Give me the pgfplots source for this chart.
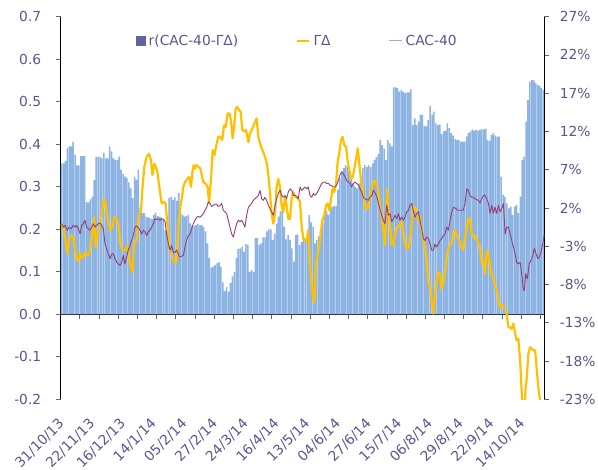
\documentclass[border=0pt]{standalone}
\usepackage{fontspec}
\setmainfont{DejaVu Sans}
\usepackage{pgfplots}
\usepackage{pgfplotstable}
\pgfplotsset{compat=1.18}
\definecolor{txt}{RGB}{87,87,145}
\definecolor{barblue}{RGB}{141,180,226}
\definecolor{legbar}{RGB}{96,100,160}
\definecolor{gold}{RGB}{255,192,0}
\definecolor{cac}{RGB}{150,60,120}
\newcommand{\cf}{\fontsize{13.8bp}{16bp}\selectfont}

\pgfplotstableread[row sep=\\]{
i r\\
0 0.355\\ 1 0.355\\ 2 0.36\\ 3 0.39\\ 4 0.395\\ 5 0.395\\ 6 0.406\\ 7 0.375\\ 8 0.35\\ 9 0.35\\
10 0.372\\ 11 0.372\\ 12 0.372\\ 13 0.263\\ 14 0.263\\ 15 0.27\\ 16 0.277\\ 17 0.316\\ 18 0.37\\ 19 0.37\\
20 0.37\\ 21 0.367\\ 22 0.38\\ 23 0.367\\ 24 0.367\\ 25 0.395\\ 26 0.383\\ 27 0.367\\ 28 0.363\\ 29 0.363\\
30 0.371\\ 31 0.34\\ 32 0.33\\ 33 0.324\\ 34 0.32\\ 35 0.31\\ 36 0.296\\ 37 0.273\\ 38 0.324\\ 39 0.316\\
40 0.34\\ 41 0.25\\ 42 0.238\\ 43 0.238\\ 44 0.23\\ 45 0.228\\ 46 0.226\\ 47 0.224\\ 48 0.234\\ 49 0.239\\
50 0.231\\ 51 0.23\\ 52 0.228\\ 53 0.224\\ 54 0.198\\ 55 0.192\\ 56 0.273\\ 57 0.277\\ 58 0.269\\ 59 0.275\\
60 0.267\\ 61 0.285\\ 62 0.238\\ 63 0.234\\ 64 0.23\\ 65 0.231\\ 66 0.234\\ 67 0.214\\ 68 0.208\\ 69 0.208\\
70 0.21\\ 71 0.212\\ 72 0.209\\ 73 0.21\\ 74 0.205\\ 75 0.195\\ 76 0.167\\ 77 0.132\\ 78 0.11\\ 79 0.112\\
80 0.116\\ 81 0.12\\ 82 0.122\\ 83 0.112\\ 84 0.075\\ 85 0.055\\ 86 0.064\\ 87 0.053\\ 88 0.073\\ 89 0.089\\
90 0.1\\ 91 0.132\\ 92 0.153\\ 93 0.155\\ 94 0.159\\ 95 0.147\\ 96 0.165\\ 97 0.163\\ 98 0.1\\ 99 0.104\\
100 0.1\\ 101 0.179\\ 102 0.179\\ 103 0.163\\ 104 0.167\\ 105 0.181\\ 106 0.181\\ 107 0.195\\ 108 0.2\\ 109 0.2\\
110 0.175\\ 111 0.19\\ 112 0.213\\ 113 0.23\\ 114 0.242\\ 115 0.261\\ 116 0.206\\ 117 0.176\\ 118 0.187\\ 119 0.175\\
120 0.155\\ 121 0.124\\ 122 0.186\\ 123 0.188\\ 124 0.163\\ 125 0.17\\ 126 0.183\\ 127 0.178\\ 128 0.175\\ 129 0.234\\
130 0.216\\ 131 0.206\\ 132 0.167\\ 133 0.175\\ 134 0.183\\ 135 0.2\\ 136 0.214\\ 137 0.238\\ 138 0.242\\ 139 0.234\\
140 0.25\\ 141 0.253\\ 142 0.255\\ 143 0.255\\ 144 0.293\\ 145 0.32\\ 146 0.336\\ 147 0.344\\ 148 0.351\\ 149 0.347\\
150 0.336\\ 151 0.316\\ 152 0.308\\ 153 0.3\\ 154 0.296\\ 155 0.308\\ 156 0.316\\ 157 0.344\\ 158 0.351\\ 159 0.346\\
160 0.351\\ 161 0.346\\ 162 0.355\\ 163 0.363\\ 164 0.37\\ 165 0.377\\ 166 0.41\\ 167 0.398\\ 168 0.39\\ 169 0.363\\
170 0.41\\ 171 0.402\\ 172 0.395\\ 173 0.534\\ 174 0.534\\ 175 0.532\\ 176 0.524\\ 177 0.528\\ 178 0.524\\ 179 0.52\\
180 0.522\\ 181 0.522\\ 182 0.529\\ 183 0.445\\ 184 0.461\\ 185 0.445\\ 186 0.453\\ 187 0.469\\ 188 0.469\\ 189 0.443\\
190 0.442\\ 191 0.457\\ 192 0.49\\ 193 0.469\\ 194 0.477\\ 195 0.449\\ 196 0.445\\ 197 0.447\\ 198 0.424\\ 199 0.43\\
200 0.432\\ 201 0.449\\ 202 0.438\\ 203 0.426\\ 204 0.42\\ 205 0.412\\ 206 0.41\\ 207 0.41\\ 208 0.406\\ 209 0.406\\
210 0.406\\ 211 0.418\\ 212 0.426\\ 213 0.43\\ 214 0.435\\ 215 0.432\\ 216 0.434\\ 217 0.432\\ 218 0.434\\ 219 0.435\\
220 0.435\\ 221 0.437\\ 222 0.41\\ 223 0.408\\ 224 0.422\\ 225 0.426\\ 226 0.42\\ 227 0.418\\ 228 0.418\\ 229 0.324\\
230 0.281\\ 231 0.277\\ 232 0.261\\ 233 0.249\\ 234 0.253\\ 235 0.234\\ 236 0.253\\ 237 0.257\\ 238 0.238\\ 239 0.277\\
240 0.363\\ 241 0.371\\ 242 0.453\\ 243 0.504\\ 244 0.547\\ 245 0.551\\ 246 0.55\\ 247 0.544\\ 248 0.54\\ 249 0.537\\
250 0.532\\ 251 0.528\\
}\corr

\pgfplotstableread[row sep=\\]{
i g\\
0 -0.05\\ 0.9 -0.5\\ 1.7 -1.8\\ 3.0 -4.0\\ 3.8 -2.2\\ 4.9 -1.6\\ 6.1 -1.8\\ 6.9 -3.1\\ 7.8 -4.85\\ 8.7 -4.85\\
9.6 -3.9\\ 10.4 -4.6\\ 11.3 -4.2\\ 12.5 -3.8\\ 13.4 -4.2\\ 14.4 -4.0\\ 15.3 -2.7\\ 16.2 -0.5\\ 16.8 0.8\\ 17.7 -3.1\\
18.6 -1.4\\ 19.6 -0.9\\ 20.5 0.4\\ 21.4 2.35\\ 22.1 3.2\\ 22.9 2.6\\ 23.8 0.8\\ 25.2 -0.9\\ 26.4 -0.5\\ 27.4 0.8\\
28.7 0.6\\ 29.5 -0.05\\ 30.4 -2.2\\ 31.3 -3.3\\ 32.1 -3.5\\ 33.5 -3.5\\ 34.4 -2.9\\ 35.3 -4.85\\ 36.1 -5.7\\ 37.0 -6.4\\
37.7 -2.7\\ 38.2 -2.4\\ 39.1 -2.2\\ 39.6 -0.5\\ 40.3 1.3\\ 41.3 1.5\\ 42.0 4.3\\ 43.1 7.4\\ 44.3 8.7\\ 45.5 9.1\\
46.6 8.2\\ 47.3 6.3\\ 48.3 7.8\\ 49.0 7.4\\ 49.9 6.7\\ 50.9 4.75\\ 52.1 2.6\\ 53.0 2.8\\ 54.2 2.6\\ 55.2 -0.5\\
56.1 -3.1\\ 57.0 -3.8\\ 58.2 -4.85\\ 59.1 -5.2\\ 59.9 -4.85\\ 60.8 -0.9\\ 61.7 2.1\\ 62.5 3.0\\ 63.4 4.75\\ 64.3 5.4\\
65.5 5.8\\ 66.5 6.05\\ 67.4 4.75\\ 68.1 6.7\\ 68.8 7.6\\ 69.5 7.15\\ 70.4 7.6\\ 71.2 7.4\\ 72.3 7.15\\ 73.0 6.3\\
73.8 5.4\\ 75.0 5.2\\ 76.1 4.75\\ 76.8 2.6\\ 77.8 5.6\\ 78.7 9.55\\ 79.6 8.9\\ 80.6 10.2\\ 81.6 11.3\\ 82.5 11.3\\
83.7 10.9\\ 84.6 12.8\\ 85.5 12.6\\ 86.5 14.35\\ 87.4 14.35\\ 88.2 13.5\\ 89.1 11.1\\ 90.0 13.0\\ 90.7 15.0\\ 91.5 15.2\\
92.4 14.8\\ 93.3 14.6\\ 94.1 12.2\\ 95.2 12.0\\ 96.1 12.2\\ 97.3 10.6\\ 98.1 11.7\\ 99.4 12.4\\ 100.4 13.0\\ 101.6 13.7\\
102.5 11.3\\ 103.4 10.4\\ 104.2 9.8\\ 105.1 9.3\\ 105.9 8.7\\ 106.8 8.0\\ 107.7 6.3\\ 108.6 3.9\\ 109.4 1.26\\ 110.3 -0.05\\
111.2 1.26\\ 112.0 4.75\\ 112.9 5.8\\ 113.8 4.75\\ 114.6 2.35\\ 115.5 1.5\\ 116.4 3.4\\ 117.2 2.35\\ 118.1 0.6\\ 119.0 0.6\\
119.9 3.4\\ 120.7 4.1\\ 121.6 3.5\\ 122.5 3.4\\ 123.3 3.2\\ 124.2 2.8\\ 125.1 -0.5\\ 125.9 -2.0\\ 126.8 -2.25\\ 127.7 -2.25\\
128.5 -0.9\\ 129.4 -5.7\\ 130.3 -8.1\\ 131.2 -10.1\\ 131.7 -10.3\\ 132.4 -5.7\\ 133.1 -4.4\\ 134.1 -3.1\\ 135.0 -1.4\\ 135.8 0.4\\
136.9 1.05\\ 137.8 2.35\\ 138.6 2.6\\ 139.5 1.7\\ 140.4 3.2\\ 141.2 4.5\\ 142.1 4.1\\ 143.0 5.2\\ 143.8 8.0\\ 144.7 9.3\\
145.6 10.9\\ 146.4 11.3\\ 147.3 10.2\\ 148.2 10.0\\ 149.0 8.2\\ 149.9 6.9\\ 150.8 5.8\\ 151.7 6.05\\ 152.5 7.15\\ 153.4 8.4\\
154.3 9.8\\ 155.1 7.8\\ 156.0 5.6\\ 156.9 4.1\\ 157.7 3.0\\ 158.6 1.9\\ 159.5 1.9\\ 160.3 3.0\\ 161.2 3.9\\ 162.1 5.2\\
162.9 5.6\\ 163.8 5.2\\ 164.6 4.8\\ 165.3 3.6\\ 165.9 2.2\\ 166.8 0.8\\ 167.6 -0.9\\ 168.5 -2.9\\ 169.0 0.4\\ 169.7 4.5\\
170.2 2.1\\ 171.1 -0.5\\ 172.0 -2.7\\ 172.9 -2.9\\ 173.7 -1.4\\ 174.6 -0.5\\ 175.5 -0.5\\ 176.3 -0.05\\ 177.2 0.2\\ 178.1 -1.4\\
178.9 -2.7\\ 179.8 -3.3\\ 180.7 -3.3\\ 181.5 -2.2\\ 182.4 -0.05\\ 183.3 2.1\\ 184.1 2.1\\ 185.0 1.5\\ 185.9 0.4\\ 186.7 0.8\\
187.6 -0.9\\ 188.5 -2.2\\ 189.4 -3.1\\ 190.2 -4.85\\ 191.1 -7.9\\ 192.0 -8.1\\ 192.8 -10.1\\ 193.7 -11.8\\ 194.6 -9.2\\ 195.4 -7.5\\
196.3 -6.4\\ 197.2 -6.6\\ 198.0 -8.6\\ 198.9 -7.7\\ 199.8 -6.2\\ 200.6 -4.4\\ 201.5 -3.3\\ 202.4 -2.7\\ 203.3 -2.5\\ 204.1 -1.15\\
205.0 -0.9\\ 205.9 -1.5\\ 206.7 -2.0\\ 207.6 -2.5\\ 208.5 -3.1\\ 209.3 -3.5\\ 210.2 -1.8\\ 211.1 -0.5\\ 211.9 0.6\\ 212.8 0.6\\
213.7 -1.4\\ 214.6 -1.8\\ 215.4 -1.6\\ 216.3 -2.2\\ 217.2 -2.7\\ 218.0 -3.1\\ 218.9 -5.1\\ 219.8 -4.85\\ 220.6 -6.6\\ 221.5 -3.5\\
222.4 -4.2\\ 223.2 -5.5\\ 224.1 -6.8\\ 225.0 -7.25\\ 225.8 -8.3\\ 226.7 -8.6\\ 227.6 -10.1\\ 228.5 -11.0\\ 229.3 -10.7\\ 230.2 -11.0\\
231.1 -11.0\\ 231.9 -11.8\\ 232.8 -13.6\\ 233.7 -13.6\\ 234.5 -13.8\\ 235.4 -13.1\\ 236.3 -14.4\\ 237.1 -15.3\\ 238.0 -15.1\\ 238.9 -18.0\\
239.7 -21.9\\ 240.3 -24.5\\ 241.2 -24.5\\ 241.8 -21.4\\ 242.3 -20.4\\ 243.2 -17.0\\ 244.1 -16.2\\ 245.0 -16.4\\ 245.8 -16.6\\ 246.7 -16.6\\
247.6 -19.2\\ 248.4 -21.4\\ 249.3 -23.2\\ 250.2 -23.3\\ 251.5 -23.3\\
}\gd

\pgfplotstableread[row sep=\\]{
i c\\
0 -0.05\\ 0.9 -0.5\\ 1.7 -0.27\\ 3.0 -0.92\\ 3.8 -0.5\\ 4.9 -0.7\\ 6.1 -0.27\\ 6.9 -0.5\\ 7.8 -0.27\\ 8.7 -0.7\\
9.6 -1.36\\ 10.4 -0.27\\ 11.3 -0.05\\ 12.2 0.38\\ 13.0 -0.5\\ 13.9 -0.7\\ 14.8 -0.92\\ 15.6 -0.5\\ 16.5 -0.05\\ 17.4 -0.5\\
18.2 -0.27\\ 19.1 -0.05\\ 20.0 0.03\\ 20.8 -0.27\\ 21.7 -0.7\\ 22.6 -2.7\\ 23.4 -3.3\\ 24.3 -4.0\\ 25.2 -4.6\\ 26.1 -4.0\\
26.9 -4.0\\ 27.8 -4.6\\ 28.7 -5.1\\ 29.5 -5.3\\ 30.4 -5.5\\ 31.3 -5.1\\ 32.1 -4.2\\ 33.0 -5.3\\ 33.9 -4.4\\ 34.7 -3.5\\
35.6 -2.9\\ 36.5 -2.2\\ 37.3 -1.6\\ 38.2 -0.5\\ 39.1 -0.35\\ 40.0 -0.6\\ 40.8 -0.9\\ 41.7 -1.4\\ 42.6 -0.9\\ 43.4 -1.1\\
44.3 -1.6\\ 45.2 -1.1\\ 46.0 -0.9\\ 46.9 -0.5\\ 47.8 -0.05\\ 48.6 0.6\\ 49.5 0.5\\ 50.4 0.6\\ 51.2 0.4\\ 52.1 0.6\\
53.0 0.5\\ 53.9 0.2\\ 54.7 -1.4\\ 55.6 -2.7\\ 56.5 -3.5\\ 57.3 -2.9\\ 58.2 -3.8\\ 59.1 -3.8\\ 59.9 -3.5\\ 60.8 -4.0\\
61.3 -4.4\\ 62.5 -4.3\\ 63.4 -4.2\\ 64.3 -3.1\\ 65.1 -2.2\\ 66.0 -1.6\\ 66.9 -1.4\\ 67.8 -0.7\\ 68.6 -0.05\\ 69.5 0.4\\
70.4 0.8\\ 71.2 0.9\\ 72.1 0.8\\ 73.0 1.0\\ 73.8 1.26\\ 74.7 1.7\\ 75.6 2.1\\ 76.4 2.8\\ 77.3 2.6\\ 78.2 2.2\\
79.0 2.35\\ 79.9 2.5\\ 80.8 2.5\\ 81.6 2.2\\ 82.5 2.3\\ 83.4 2.6\\ 84.2 1.7\\ 85.1 1.5\\ 86.0 1.26\\ 86.8 0.4\\
87.7 -0.5\\ 88.6 -1.4\\ 89.5 -1.8\\ 90.3 -0.9\\ 91.2 -0.05\\ 92.1 0.4\\ 92.9 0.2\\ 93.8 0.4\\ 94.7 -0.05\\ 95.5 -0.5\\
96.4 1.05\\ 97.3 2.1\\ 98.1 2.35\\ 99.0 2.6\\ 99.9 3.0\\ 100.7 3.2\\ 101.6 3.4\\ 102.5 3.65\\ 103.4 4.3\\ 104.2 3.2\\
105.1 3.0\\ 105.9 3.4\\ 106.8 3.0\\ 107.7 2.35\\ 108.6 1.9\\ 109.4 1.5\\ 110.3 1.05\\ 111.2 2.35\\ 112.0 3.2\\ 112.9 3.9\\
113.8 4.3\\ 114.6 3.65\\ 115.5 3.4\\ 116.4 3.65\\ 117.2 3.2\\ 118.1 4.1\\ 119.0 4.5\\ 119.9 4.3\\ 120.7 3.65\\ 121.6 3.65\\
122.5 3.5\\ 123.3 3.2\\ 124.2 4.75\\ 125.1 4.3\\ 125.9 4.5\\ 126.8 4.75\\ 127.7 4.5\\ 128.5 4.75\\ 129.4 3.65\\ 130.3 3.4\\
131.2 3.9\\ 132.0 3.65\\ 132.9 3.9\\ 133.8 4.3\\ 134.6 4.75\\ 135.5 5.2\\ 136.4 5.4\\ 137.2 5.4\\ 138.1 5.2\\ 139.0 5.2\\
139.8 5.0\\ 140.7 4.9\\ 141.6 4.75\\ 142.4 4.75\\ 143.3 5.0\\ 144.2 5.6\\ 145.0 6.3\\ 145.9 6.7\\ 146.8 6.5\\ 147.7 6.05\\
148.5 5.6\\ 149.4 5.4\\ 150.3 5.2\\ 151.1 4.75\\ 152.0 5.2\\ 152.9 5.4\\ 153.7 5.2\\ 154.6 5.0\\ 155.5 4.5\\ 156.3 4.1\\
157.2 3.4\\ 158.1 3.2\\ 158.9 3.1\\ 159.8 3.0\\ 160.7 3.4\\ 161.6 3.65\\ 162.4 4.3\\ 163.3 4.0\\ 164.2 3.5\\ 165.0 2.7\\
165.9 1.8\\ 166.8 1.05\\ 167.6 0.4\\ 168.5 -0.05\\ 169.4 2.35\\ 170.2 1.05\\ 171.1 1.26\\ 172.0 0.2\\ 172.9 0.6\\ 173.7 1.05\\
174.6 0.6\\ 175.5 1.26\\ 176.3 0.4\\ 177.2 0.8\\ 178.1 0.4\\ 178.9 0.8\\ 179.8 1.5\\ 180.7 1.7\\ 181.5 2.35\\ 182.4 2.6\\
183.3 1.5\\ 184.1 0.8\\ 185.0 1.26\\ 185.9 1.5\\ 186.7 0.4\\ 187.6 -0.7\\ 188.5 -2.0\\ 189.4 -2.25\\ 190.2 -1.8\\ 191.1 -2.0\\
192.0 -2.7\\ 192.8 -3.5\\ 193.7 -3.5\\ 194.6 -2.7\\ 195.4 -3.1\\ 196.3 -2.7\\ 197.2 -2.25\\ 198.0 -2.0\\ 198.9 -1.6\\ 199.8 -1.4\\
200.6 -0.5\\ 201.5 -0.9\\ 202.4 0.4\\ 203.3 1.5\\ 204.1 2.1\\ 205.0 2.0\\ 205.9 1.8\\ 206.7 1.7\\ 207.6 1.7\\ 208.5 1.7\\
209.3 1.7\\ 210.2 2.6\\ 211.1 4.5\\ 211.9 4.3\\ 212.8 3.65\\ 213.7 3.4\\ 214.6 3.4\\ 215.4 3.2\\ 216.3 3.1\\ 217.2 3.0\\
218.0 2.65\\ 218.9 3.2\\ 219.8 3.65\\ 220.6 3.65\\ 221.5 3.2\\ 222.4 2.6\\ 223.2 1.3\\ 224.1 2.35\\ 225.0 1.3\\ 225.8 2.1\\
226.7 1.3\\ 227.6 2.35\\ 228.5 1.5\\ 229.3 1.9\\ 230.2 2.6\\ 231.1 -1.4\\ 231.9 -0.5\\ 232.8 -0.5\\ 233.7 -1.4\\ 234.5 -2.2\\
235.4 -3.1\\ 236.3 -4.0\\ 237.1 -5.1\\ 238.0 -5.3\\ 238.9 -5.1\\ 239.7 -6.6\\ 240.6 -8.6\\ 241.1 -8.8\\ 241.8 -6.6\\ 242.7 -7.25\\
243.6 -5.3\\ 244.6 -4.85\\ 245.5 -4.2\\ 246.3 -3.3\\ 247.2 -4.0\\ 248.1 -4.6\\ 248.9 -4.4\\ 249.8 -3.75\\ 250.7 -2.7\\ 251.5 -1.4\\
}\cac

\begin{document}
\begin{tikzpicture}[font=\cf]
\path[use as bounding box] (-60.7bp,-70.7bp) rectangle (537.3bp,399.3bp);
\begin{axis}[
  at={(0,0)}, anchor=south west,
  scale only axis, width=483.6bp, height=382.6bp,
  xmin=-0.5, xmax=251.5, ymin=-0.2, ymax=0.7,
  axis y line*=left, axis x line*=middle,
  axis line style={-, black, line width=1.2bp},
  every inner x axis line/.append style={-},
  every outer y axis line/.append style={-},
  ytick={-0.2,-0.1,0,0.1,0.2,0.3,0.4,0.5,0.6,0.7},
  /pgf/number format/.cd, fixed, fixed zerofill, precision=1, assume math mode=true,
  /pgfplots/.cd,
  xtick={9.5,19.5,...,249.5}, xticklabels={},
  tick align=outside, major tick length=5bp,
  tick style={black!60, line width=0.8bp},
  tick label style={font=\cf, text=txt},
  yticklabel style={xshift=-11bp},
  ybar, bar width=0.82,
]
\addplot[fill=barblue, draw=none] table[x=i, y=r]{\corr};
\end{axis}
\begin{axis}[
  at={(0,0)}, anchor=south west,
  scale only axis, width=483.6bp, height=382.6bp,
  xmin=-0.5, xmax=251.5, ymin=-23, ymax=27,
  axis y line*=right, axis x line*=bottom,
  axis line style={-, black, line width=1.2bp},
  every outer y axis line/.append style={-},
  x axis line style={draw=none},
  ytick={-23,-18,-13,-8,-3,2,7,12,17,22,27},
  yticklabel={\pgfmathprintnumber[assume math mode=true]{\tick}\%},
  xtick={0,16,...,240},
  xticklabels={31/10/13,22/11/13,16/12/13,14/1/14,05/2/14,27/2/14,24/3/14,16/4/14,13/5/14,04/6/14,27/6/14,15/7/14,06/8/14,29/8/14,22/9/14,14/10/14},
  xticklabel style={rotate=45, anchor=east, inner sep=0pt},
  xticklabel shift=17bp,
  tick align=outside, major tick length=5bp,
  tick style={black!60, line width=0.8bp},
  xtick style={draw=none},
  tick label style={font=\cf, text=txt},
  yticklabel style={xshift=7bp},
  legend columns=3,
  legend style={at={(0.156,0.9365)}, anchor=west, draw=none, fill=none,
    inner sep=0pt, font=\cf, text=txt,
    nodes={inner sep=0pt},
    /tikz/every odd column/.append style={column sep=3bp},
    /tikz/every even column/.append style={column sep=58bp}},
]
\addlegendimage{legend image code/.code={\fill[legbar] (0bp,-4.5bp) rectangle (9bp,4.5bp);}}
\addlegendentry{r(CAC-40-ΓΔ)}
\addplot[gold, line width=2.2bp, line join=round,
  legend image code/.code={\draw[gold, line width=2.2bp] (0bp,0bp) -- (12bp,0bp);}]
  table[x=i, y=g]{\gd};
\addlegendentry{ΓΔ}
\addplot[cac, line width=0.9bp, line join=round,
  legend image code/.code={\draw[cac!50, line width=1bp] (0bp,0bp) -- (13bp,0bp);}]
  table[x=i, y=c]{\cac};
\addlegendentry{CAC-40}
\end{axis}
\end{tikzpicture}
\end{document}
